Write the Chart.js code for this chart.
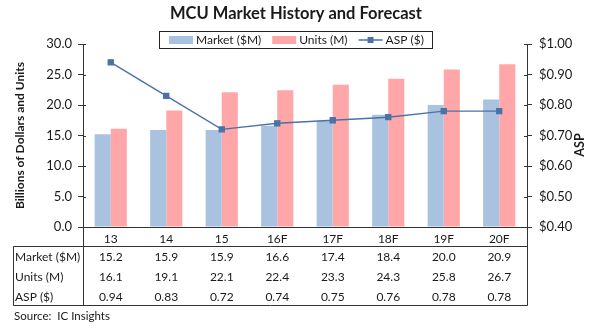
<!DOCTYPE html>
<html><head><meta charset="utf-8">
<script src="https://cdn.jsdelivr.net/npm/chart.js@4"></script>
<style>html,body{margin:0;padding:0;background:#fff}#wrap{width:600px;height:330px;position:relative}</style>
</head><body><div id="wrap"><canvas id="c"></canvas></div>
<script>
const categories = ['13','14','15','16F','17F','18F','19F','20F'];
const marketValues = [15.2,15.9,15.9,16.6,17.4,18.4,20.0,20.9];
const unitsValues = [16.1,19.1,22.1,22.4,23.3,24.3,25.8,26.7];
const aspValues = [0.94,0.83,0.72,0.74,0.75,0.76,0.78,0.78];
const seriesLabels = ['Market ($M)','Units (M)','ASP ($)'];
const tableRowLabels = ['Market ($M)','Units (M)','ASP ($)'];
const titleText = 'MCU Market History and Forecast';
const leftAxisTitle = 'Billions of Dollars and Units';
const rightAxisTitle = 'ASP';
const sourceText = 'Source:  IC Insights';

const F = 'Lato, "Open Sans", sans-serif';
const TXT = '#1a1a1a';
const AXIS = '#333333';
const BLUE = '#A8C2E0';
const PINK = '#FFA7A8';
const LINE = '#4A72A6';

const extras = {
  id: 'extras',
  afterDraw(chart) {
    const ctx = chart.ctx;
    const xs = chart.scales.x, y = chart.scales.y, y1 = chart.scales.y1;
    const ca = chart.chartArea;
    const ln = (x1, y1_, x2, y2) => { ctx.beginPath(); ctx.moveTo(x1, y1_); ctx.lineTo(x2, y2); ctx.stroke(); };
    ctx.save();
    ctx.strokeStyle = AXIS; ctx.lineWidth = 1;
    // inward halves of cross tick marks
    y.ticks.forEach(t => { const p = Math.round(y.getPixelForValue(t.value)) + 0.5; ln(ca.left, p, ca.left + 3, p); });
    y1.ticks.forEach(t => { const p = Math.round(y1.getPixelForValue(t.value)) + 0.5; ln(ca.right - 3, p, ca.right, p); });
    // data table
    const L = 13.5, R = Math.round(ca.right) + 0.5, AL = Math.round(ca.left) + 0.5;
    const top = 246.5, bot = 305.5, axisY = Math.round(ca.bottom);
    ln(L, top, R, top);
    ln(L, bot, R, bot);
    ln(L, top, L, bot);
    ln(AL, axisY, AL, bot);
    ln(R, axisY, R, bot);
    ctx.fillStyle = TXT;
    ctx.font = '12px ' + F;
    ctx.textBaseline = 'middle';
    const rows = [marketValues.map(v => v.toFixed(1)), unitsValues.map(v => v.toFixed(1)), aspValues.map(v => v.toFixed(2))];
    const rowY = [257, 277, 297];
    rows.forEach((r, ri) => {
      ctx.textAlign = 'left';
      ctx.fillText(tableRowLabels[ri], 15, rowY[ri]);
      ctx.textAlign = 'center';
      r.forEach((txt, i) => ctx.fillText(txt, xs.getPixelForValue(i), rowY[ri]));
    });
    ctx.textAlign = 'left';
    ctx.font = '11.5px ' + F;
    ctx.fillText(sourceText, 14, 316);
    // right axis title
    ctx.save();
    ctx.translate(580, 145);
    ctx.rotate(-Math.PI / 2);
    ctx.textAlign = 'center';
    ctx.font = 'bold 12.5px ' + F;
    ctx.fillText(rightAxisTitle, 0, 0);
    ctx.restore();
    // legend
    const bx = 159.5, by = 31.5, bw = 273, bh = 17;
    ctx.fillStyle = '#fff';
    ctx.fillRect(bx, by, bw, bh);
    ctx.strokeStyle = '#222';
    ctx.strokeRect(bx, by, bw, bh);
    const cy = by + bh / 2;
    ctx.font = '12px ' + F;
    ctx.textAlign = 'left';
    let x = 169;
    const items = [{k:'bar', c:BLUE, t:seriesLabels[0]}, {k:'bar', c:PINK, t:seriesLabels[1]}, {k:'line', c:LINE, t:seriesLabels[2]}];
    items.forEach(it => {
      if (it.k === 'bar') {
        ctx.fillStyle = it.c; ctx.fillRect(x, cy - 4, 24, 8);
      } else {
        ctx.strokeStyle = it.c; ctx.lineWidth = 1.5; ln(x, cy, x + 24, cy);
        ctx.fillStyle = it.c; ctx.fillRect(x + 12 - 3, cy - 3, 6, 6);
      }
      ctx.fillStyle = TXT;
      ctx.fillText(it.t, x + 27, cy + 0.5);
      x += 27 + ctx.measureText(it.t).width + 11;
    });
    ctx.restore();
  }
};

new Chart(document.getElementById('c'), {
  data: {
    labels: categories,
    datasets: [
      {type:'line', label: seriesLabels[2], data: aspValues, yAxisID:'y1', borderColor: LINE, backgroundColor: LINE,
       borderWidth: 1.4, pointStyle:'rect', pointRadius: 3.5, pointBackgroundColor: LINE, pointBorderColor: LINE, order: 0, tension: 0},
      {type:'bar', label: seriesLabels[0], data: marketValues, yAxisID:'y', backgroundColor: BLUE, order: 1,
       categoryPercentage: 0.58, barPercentage: 1},
      {type:'bar', label: seriesLabels[1], data: unitsValues, yAxisID:'y', backgroundColor: PINK, order: 1,
       categoryPercentage: 0.58, barPercentage: 1}
    ]
  },
  options: {
    responsive: true, maintainAspectRatio: false, animation: false, devicePixelRatio: 1,
    layout: {padding: {left: 0, right: 8, top: 0, bottom: 0}},
    plugins: {
      legend: {display: false},
      tooltip: {enabled: false},
      title: {display: true, text: titleText, color: TXT, font: {family: F, size: 16.5, weight: 'bold', lineHeight: 1.2},
              padding: {top: 4, bottom: 20.2}}
    },
    scales: {
      x: {
        grid: {display: false, drawTicks: false},
        border: {display: true, color: AXIS, width: 1},
        ticks: {font: {family: F, size: 12}, color: TXT, padding: 5, maxRotation: 0},
        afterFit: s => { s.height = 103; }
      },
      y: {
        position: 'left', min: 0, max: 30,
        ticks: {stepSize: 5, callback: v => Number(v).toFixed(1), font: {family: F, size: 13}, color: TXT, padding: 6},
        grid: {drawOnChartArea: false, tickLength: 5, color: AXIS},
        border: {display: true, color: AXIS},
        title: {display: true, text: leftAxisTitle, color: TXT, font: {family: F, size: 12, weight: 'bold', lineHeight: 1.2},
                padding: {top: 13, bottom: 0}},
        afterFit: s => { s.width = 83; }
      },
      y1: {
        position: 'right', min: 0.4, max: 1.0,
        ticks: {stepSize: 0.1, callback: v => '$' + Number(v).toFixed(2), font: {family: F, size: 13}, color: TXT, padding: 7},
        grid: {drawOnChartArea: false, tickLength: 5, color: AXIS},
        border: {display: true, color: AXIS},
        afterFit: s => { s.width = 65; }
      }
    }
  },
  plugins: [extras]
});
</script>
</body></html>
